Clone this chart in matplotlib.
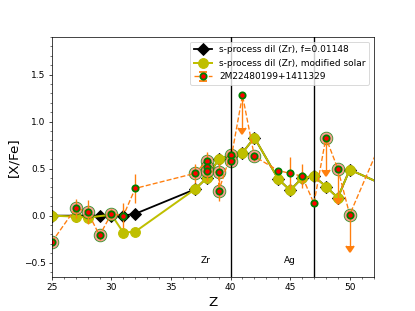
import numpy as np
import matplotlib
matplotlib.use('Agg')
import matplotlib.pyplot as plt
from matplotlib.ticker import MultipleLocator

# s-process dilution model, f=0.01148
z_dil = [25, 27, 28, 29, 30, 31, 32, 37, 38, 39, 40, 41, 42, 44, 45, 46, 47, 48, 49, 50, 56]
xfe_dil = [0.0, 0.0, 0.0, 0.0, 0.0, 0.0, 0.02, 0.28, 0.40, 0.60, 0.64, 0.67, 0.83,
           0.39, 0.27, 0.40, 0.42, 0.31, 0.19, 0.49, 0.15]

# same model with modified solar abundances
z_mod = [25, 27, 28, 30, 31, 32, 37, 38, 39, 40, 41, 42, 44, 45, 46, 47, 48, 49, 50, 56]
xfe_mod = [0.0, -0.01, -0.02, 0.01, -0.18, -0.17, 0.28, 0.40, 0.60, 0.64, 0.67, 0.83,
           0.39, 0.27, 0.40, 0.42, 0.31, 0.19, 0.49, 0.15]

# observed star
z_obs = [25, 27, 28, 29, 30, 31, 32, 37, 38, 38, 38, 39, 39, 40, 40, 41, 42,
         44, 45, 46, 47, 48, 49, 50, 56]
xfe_obs = [-0.28, 0.08, 0.04, -0.21, 0.02, 0.0, 0.29, 0.45, 0.58, 0.52, 0.47, 0.46, 0.26,
           0.65, 0.58, 1.28, 0.63, 0.48, 0.45, 0.42, 0.13, 0.83, 0.50, 0.01, 1.78]
err_obs = [0.0, 0.1, 0.13, 0.05, 0.05, 0.13, 0.15, 0.1, 0.1, 0.1, 0.1, 0.1, 0.1,
           0.05, 0.05, 0.35, 0.05, 0.03, 0.17, 0.13, 0.0, 0.34, 0.31, 0.33, 0.1]
upper = [False] * 15 + [True] + [False] * 5 + [True, True, True, False]
halo = [True, True, True, True, True, False, False, True, True, True, True, True, True,
        True, True, False, True, False, False, False, False, True, True, True, False]

z_obs = np.array(z_obs)
xfe_obs = np.array(xfe_obs)
halo = np.array(halo)

fig, p = plt.subplots(1, figsize=(6.4, 4.8))

p.plot(z_dil, xfe_dil, 'k-', marker='D', ms=10, lw=2, label='s-process dil (Zr), f=0.01148')
p.plot(z_mod, xfe_mod, '-', color='y', marker='o', ms=11, lw=2.2,
       label='s-process dil (Zr), modified solar')
p.plot(z_obs[halo], xfe_obs[halo], 'o', ms=14, mfc='salmon', mec='green', mew=1, alpha=0.75, ls='none')
line, caps, bars = p.errorbar(z_obs, xfe_obs, yerr=err_obs, uplims=upper, fmt='o', ls='--',
                              color='C1', mfc='r', mec='g', ms=7, mew=2,
                              label='2M22480199+1411329')
for c in caps:
    c.set_markersize(9)

p.axvline(40, color='k', lw=1.5)
p.axvline(47, color='k', lw=1.5)
p.text(37.5, -0.5, 'Zr')
p.text(44.5, -0.5, 'Ag')

p.set_xlim(25, 52)
p.set_ylim(-0.65, 1.9)
p.xaxis.set_minor_locator(MultipleLocator(1))
p.yaxis.set_minor_locator(MultipleLocator(0.1))
p.set_xlabel('Z', fontsize=15)
p.set_ylabel('[X/Fe]', fontsize=15)
p.legend(loc='upper right')

plt.savefig('out.png', dpi=64.85)
